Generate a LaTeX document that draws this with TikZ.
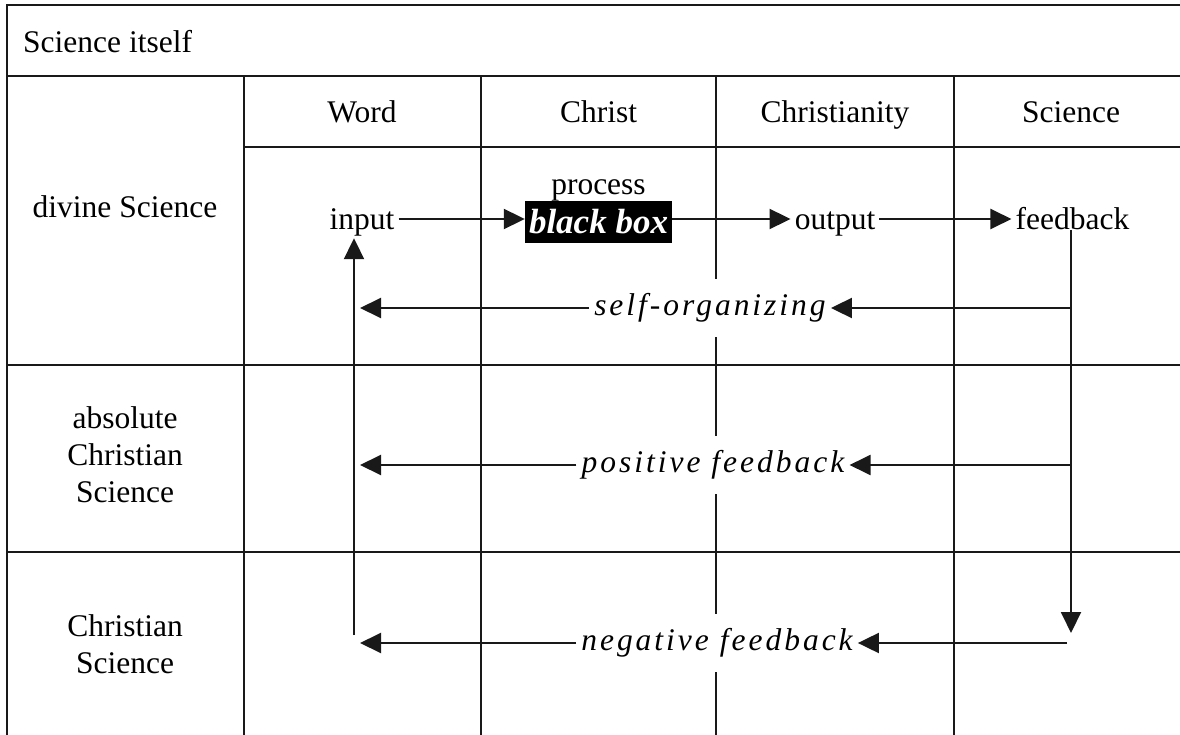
\documentclass[tikz,border=0pt]{standalone}
\usepackage{fontspec}
\setmainfont{Liberation Serif}
\newfontfamily\spit{Liberation Serif}[LetterSpace=9.5]
\usetikzlibrary{arrows.meta}
\begin{document}
\begin{tikzpicture}[x=1pt,y=-1pt,
  every node/.style={font=\fontsize{31.5}{37}\selectfont, inner sep=0pt},
  grid/.style={line width=1.5pt, black!90},
  arr/.style={line width=2pt, black!90, -{Triangle[length=21pt,width=20pt]}},
  lab/.style={anchor=base, text height=26pt, text depth=4pt, inner xsep=4pt, inner ysep=4pt},
  hd/.style={anchor=base},
  ital/.style={font=\fontsize{31.5}{37}\selectfont\spit\itshape, fill=white, inner xsep=5pt, minimum height=58pt},
  bbox/.style={fill=black, text=white, font=\fontsize{35}{40}\selectfont\bfseries\itshape, minimum width=147pt, minimum height=42pt}
]
\useasboundingbox (0,0) rectangle (1180,735);
% grid
\draw[grid] (7,735) -- (7,5) -- (1180,5);
\draw[grid] (7,76) -- (1180,76);
\draw[grid] (244,147) -- (1180,147);
\draw[grid] (7,365) -- (1180,365);
\draw[grid] (7,552) -- (1180,552);
\foreach \x in {244,481,716,954} \draw[grid] (\x,76) -- (\x,735);
% texts
\node[anchor=base west] (title) at (23,53) {Science itself};
\node[hd] (hword) at (362,123) {Word};
\node[hd] (hchrist) at (598.5,123) {Christ};
\node[hd] (hchristianity) at (835,123) {Christianity};
\node[hd] (hscience) at (1071,123) {Science};
\node[hd] (rdivine) at (125,218) {divine Science};
\node[align=center] (rabs) at (125,455) {absolute\\Christian\\Science};
\node[align=center] (rcs) at (125,644) {Christian\\Science};
% flow
\node[lab] (input) at (362,230) {input};
\node[hd] (process) at (598.5,195) {process};
\node[bbox] (bb) at (598.5,222) {black box};
\node[lab] (output) at (835,230) {output};
\node[lab] (fb) at (1072.5,230) {feedback};
\node[ital] (so) at (710,308) {self-organizing};
\node[ital] (pf) at (713,465) {positive feedback};
\node[ital] (nf) at (717,643) {negative feedback};
\coordinate (fbtip) at (1071,633);
\coordinate (ltip) at (360,0);
\coordinate (nfR) at (1067,0);
\coordinate (upbot) at (354,635);
% connectors
\draw[arr] (input.east) -- (bb.west |- input.east);
\draw[arr] (bb.east |- output.west) -- (output.west);
\draw[arr] (output.east) -- (fb.west);
\draw[arr] (fb.base -| fbtip) -- (fbtip);
\draw[arr] (so.east -| fbtip) -- (so.east);
\draw[arr] (so.west) -- (so.west -| ltip);
\draw[arr] (pf.east -| fbtip) -- (pf.east);
\draw[arr] (pf.west) -- (pf.west -| ltip);
\draw[arr] (nf.east -| nfR) -- (nf.east);
\draw[arr] (nf.west) -- (nf.west -| ltip);
\draw[arr] (upbot) -- (upbot |- input.south);
\end{tikzpicture}
\end{document}
